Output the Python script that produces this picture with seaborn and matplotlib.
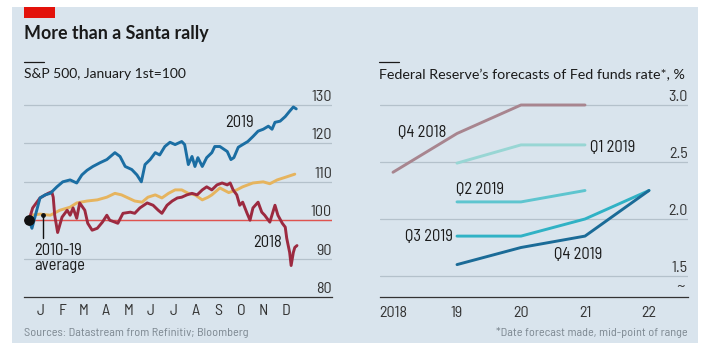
import matplotlib
matplotlib.use("Agg")
import matplotlib.pyplot as plt
import seaborn as sns
import pandas as pd
from matplotlib.patches import Rectangle
from matplotlib import font_manager as fm

# ---------------- data: left panel (day of year, index Jan 1st = 100) ----------------
days_2019 = [0, 4, 15, 22, 29, 38, 46, 56, 65, 72, 79, 87, 97, 106, 117, 124, 131, 140, 147,
             153, 158, 165, 172, 178, 185, 192, 199, 208, 212, 217, 222, 226, 230, 236, 242,
             249, 253, 260, 270, 275, 279, 285, 291, 298, 305, 312, 319, 326, 331, 335, 342,
             349, 355, 360, 364]
vals_2019 = [100, 97.9, 105.8, 106.6, 107.0, 108.7, 110.0, 110.5, 109.7, 111.8, 113.0, 114.0,
             115.0, 115.8, 117.6, 116.6, 114.0, 113.2, 111.8, 110.0, 114.5, 115.8, 117.6, 117.0,
             119.2, 120.3, 119.7, 120.5, 119.7, 114.5, 116.6, 114.0, 116.3, 114.0, 116.3, 117.6,
             119.2, 119.2, 117.9, 115.8, 116.3, 119.0, 119.7, 120.5, 121.8, 123.2, 123.7, 124.5,
             123.7, 125.5, 125.8, 127.0, 128.4, 129.5, 129.0]

days_avg = [0, 2, 15, 29, 42, 56, 65, 79, 93, 106, 117, 126, 135, 144, 154, 162, 172, 181, 190,
            199, 208, 217, 226, 236, 244, 249, 260, 272, 283, 291, 305, 319, 328, 338, 351, 362]
vals_avg = [100, 101.3, 101.6, 101.3, 102.6, 103.4, 104.5, 105.0, 105.3, 106.0, 107.0, 106.6,
            105.8, 105.0, 104.7, 106.0, 106.6, 105.8, 107.0, 107.9, 107.9, 107.0, 106.6, 105.3,
            106.0, 106.6, 108.4, 107.2, 107.9, 108.7, 109.7, 110.0, 109.5, 110.5, 111.3, 112.0]

days_2018 = [0, 5, 15, 26, 31, 33, 35, 39, 45, 52, 56, 60, 65, 69, 76, 80, 86, 93, 100, 106, 110,
             117, 121, 128, 138, 144, 151, 161, 169, 176, 181, 188, 195, 202, 208, 215, 222, 229,
             236, 242, 249, 256, 263, 270, 274, 278, 283, 287, 291, 297, 301, 305, 312, 317, 321,
             328, 335, 339, 345, 349, 351, 355, 357, 360, 362, 365]
vals_2018 = [100, 103.2, 105.8, 107.0, 107.4, 106.0, 101.3, 96.8, 100.8, 102.6, 101.3, 103.2,
             100.5, 104.5, 102.6, 99.2, 97.4, 97.9, 99.5, 101.3, 100.0, 99.5, 99.2, 101.8, 102.1,
             101.8, 103.2, 104.5, 103.9, 102.6, 101.8, 103.9, 105.0, 105.8, 106.0, 106.6, 107.0,
             106.6, 107.9, 108.7, 107.9, 109.2, 109.7, 109.2, 109.7, 107.9, 106.6, 103.9, 104.7,
             101.8, 100.0, 103.2, 104.7, 102.1, 101.3, 99.5, 103.9, 101.3, 99.2, 98.2, 95.3, 91.6,
             88.2, 91.6, 92.9, 93.4]

month_labels = ["J", "F", "M", "A", "M", "J", "J", "A", "S", "O", "N", "D"]
month_starts = [0, 31, 59, 90, 120, 151, 181, 212, 243, 273, 304, 334, 365]
left_yticks = [80, 90, 100, 110, 120, 130]

# ---------------- data: right panel (Fed funds rate forecasts, %) ----------------
years_q418 = [2018, 2019, 2020, 2021]
rate_q418 = [2.41, 2.75, 3.0, 3.0]
years_q119 = [2019, 2020, 2021]
rate_q119 = [2.49, 2.65, 2.65]
years_q219 = [2019, 2020, 2021]
rate_q219 = [2.15, 2.15, 2.25]
years_q319 = [2019, 2020, 2021, 2022]
rate_q319 = [1.85, 1.85, 2.0, 2.25]
years_q419 = [2019, 2020, 2021, 2022]
rate_q419 = [1.6, 1.75, 1.85, 2.25]
right_xticks = [2018, 2019, 2020, 2021, 2022]
right_xticklabels = ["2018", "19", "20", "21", "22"]
right_yticks = [1.5, 2.0, 2.5, 3.0]

# ---------------- styling ----------------
BG = "#d9e4ed"
GRID = "#b4c1cb"
TXT = "#1a1a1a"
GREY = "#7c8790"
c2019 = "#1b6ea3"
cavg = "#e6b45e"
c2018 = "#9c2a40"
cols_right = {"Q4 2018": "#a8858f", "Q1 2019": "#98d6d4", "Q2 2019": "#5ec5cf",
              "Q3 2019": "#30b2c5", "Q4 2019": "#1b6b97"}

sns.set_theme(style="white")
plt.rcParams["font.family"] = ["Roboto", "DejaVu Sans"]

# look for a condensed face for the small text
cond_fp = None
prefs = []
for f in fm.fontManager.ttflist:
    nm = f.name.lower()
    is_cond = ("condensed" in nm or "narrow" in nm or
               str(f.stretch) in ("condensed", "semi-condensed", "extra-condensed", "62.5", "75", "87.5"))
    if is_cond and str(f.style) == "normal" and f.weight in (400, "normal", "regular", "book"):
        score = 0 if "semi" in nm or str(f.stretch) in ("semi-condensed", "87.5") else 1
        prefs.append((score, f.fname))
if prefs:
    prefs.sort()
    cond_fp = fm.FontProperties(fname=prefs[0][1])
else:
    cond_fp = fm.FontProperties(family=["Roboto", "DejaVu Sans"])

W, H = 702, 343
fig = plt.figure(figsize=(W / 100, H / 100), dpi=100)
fig.patch.set_facecolor("white")
renderer = fig.canvas.get_renderer()

def fit_size(s, target_px, fp):
    t = fig.text(0, 0, s, fontproperties=fp, fontsize=10)
    w = t.get_window_extent(renderer).width
    t.remove()
    return 10 * target_px / w

ann_size = fit_size("Q4 2018", 48, cond_fp)
tick_size = 0.5 * (fit_size("130", 20, cond_fp) + fit_size("2018", 28, cond_fp))
src_size = fit_size("Sources: Datastream from Refinitiv; Bloomberg", 224, cond_fp)

def ctext(ax, x, y, s, size, **kw):
    fp = cond_fp.copy()
    fp.set_size(size)
    return ax.text(x, y, s, fontproperties=fp, **kw)

# panel background
fig.add_artist(Rectangle((12 / W, 0), (698 - 12) / W, (H - 7) / H, transform=fig.transFigure,
                         facecolor=BG, edgecolor="none", zorder=0))
# red tag
fig.add_artist(Rectangle((24 / W, (H - 18) / H), 31 / W, 11 / H, transform=fig.transFigure,
                         facecolor="#e3120b", edgecolor="none", zorder=1))

def fx(px):
    return px / W

def fy(py):
    return (H - py) / H

fig.text(fx(24), fy(33), "More than a Santa rally", fontsize=12.9, fontweight="bold",
         color=TXT, va="center", ha="left", family=["Lato", "DejaVu Sans"])
fig.text(fx(24), fy(74), "S&P 500, January 1st=100", fontsize=10, color=TXT, va="center",
         ha="left", family=["Lato", "DejaVu Sans"])
fig.text(fx(379), fy(75), "Federal Reserve\u2019s forecasts of Fed funds rate*, %", fontsize=10.3,
         color=TXT, va="center", ha="left", family=["Lato", "DejaVu Sans"])
fig.add_artist(plt.Line2D([fx(24), fx(44)], [fy(62), fy(62)], color=TXT, lw=0.9,
                          transform=fig.transFigure))
fig.add_artist(plt.Line2D([fx(379), fx(399)], [fy(62), fy(62)], color=TXT, lw=0.9,
                          transform=fig.transFigure))
ctext(fig, fx(24), fy(333), "Sources: Datastream from Refinitiv; Bloomberg", src_size,
      color=GREY, va="center", ha="left")
ctext(fig, fx(688), fy(333), "*Date forecast made, mid-point of range", src_size,
      color=GREY, va="center", ha="right")

# ---------------- left axes ----------------
axL = fig.add_axes([fx(24), fy(297), (332 - 24) / W, (297 - 100) / H])
axL.set_facecolor("none")
px_per_day = 268 / 365
axL.set_xlim(-5 / px_per_day, 303 / px_per_day)
axL.set_ylim(80, 130 + 5 / 3.8)

for v in left_yticks[1:]:
    axL.axhline(v, color=GRID, lw=0.9, zorder=1)
axL.axhline(100, color="#e0534f", lw=1.0, zorder=2)

dfL = pd.concat([
    pd.DataFrame({"day": days_avg, "value": vals_avg, "series": "avg"}),
    pd.DataFrame({"day": days_2018, "value": vals_2018, "series": "2018"}),
    pd.DataFrame({"day": days_2019, "value": vals_2019, "series": "2019"}),
])
sns.lineplot(data=dfL, x="day", y="value", hue="series",
             palette={"avg": cavg, "2018": c2018, "2019": c2019},
             hue_order=["avg", "2018", "2019"], estimator=None, sort=False,
             linewidth=2.1, legend=False, ax=axL, zorder=3)
axL.scatter([days_2019[0]], [vals_2019[0]], s=45, color="#111111", zorder=6)

for sp in ["top", "right", "left"]:
    axL.spines[sp].set_visible(False)
axL.spines["bottom"].set_color("#333333")
axL.spines["bottom"].set_linewidth(0.9)
axL.set_xticks(month_starts)
axL.set_xticklabels([])
axL.tick_params(axis="x", direction="out", length=6, width=0.9, color="#333333")
axL.set_yticks([])
axL.set_xlabel("")
axL.set_ylabel("")
for i, lab in enumerate(month_labels):
    ctext(axL, (month_starts[i] + month_starts[i + 1]) / 2, 80 - 14 / 3.8, lab, tick_size,
          ha="center", va="center", color="#333333")
for v in left_yticks:
    ctext(axL, 1.0, v + 8 / 3.8, str(v), tick_size, transform=axL.get_yaxis_transform(),
          ha="right", va="center", color="#333333")

ctext(axL, 287, 125.5, "2019", ann_size, ha="center", va="center", color=TXT)
ctext(axL, 325.5, 94.2, "2018", ann_size, ha="center", va="center", color=TXT)
ctext(axL, 6.8, 92.1, "2010-19", ann_size, ha="left", va="center", color=TXT)
ctext(axL, 6.8, 88.2, "average", ann_size, ha="left", va="center", color=TXT)
axL.plot([19, 19], [101.3, 95.3], color="#111111", lw=1.0, zorder=5)
axL.scatter([19], [101.3], s=6, color="#111111", zorder=6)

# ---------------- right axes ----------------
axR = fig.add_axes([fx(380), fy(297), (688 - 380) / W, (297 - 100) / H])
axR.set_facecolor("none")
axR.set_xlim(2018 - 13 / 64, 2018 + 295 / 64)
axR.set_ylim(1.5 - 21 / 114, 3.0 + 5 / 114)
for v in right_yticks:
    axR.axhline(v, color=GRID, lw=0.9, zorder=1)

dfR = pd.concat([
    pd.DataFrame({"year": years_q418, "rate": rate_q418, "forecast": "Q4 2018"}),
    pd.DataFrame({"year": years_q119, "rate": rate_q119, "forecast": "Q1 2019"}),
    pd.DataFrame({"year": years_q219, "rate": rate_q219, "forecast": "Q2 2019"}),
    pd.DataFrame({"year": years_q319, "rate": rate_q319, "forecast": "Q3 2019"}),
    pd.DataFrame({"year": years_q419, "rate": rate_q419, "forecast": "Q4 2019"}),
])
sns.lineplot(data=dfR, x="year", y="rate", hue="forecast", palette=cols_right,
             hue_order=list(cols_right.keys()), estimator=None, sort=False,
             linewidth=2.1, legend=False, ax=axR, zorder=3)

for sp in ["top", "right", "left"]:
    axR.spines[sp].set_visible(False)
axR.spines["bottom"].set_color("#333333")
axR.spines["bottom"].set_linewidth(0.9)
axR.set_xticks(right_xticks)
axR.set_xticklabels([])
axR.tick_params(axis="x", direction="out", length=6, width=0.9, color="#333333")
axR.set_yticks([])
axR.set_xlabel("")
axR.set_ylabel("")
for xv, lab in zip(right_xticks, right_xticklabels):
    ctext(axR, xv, 1.5 - 37 / 114, lab, tick_size, ha="center", va="center", color="#333333")
for v in right_yticks:
    ctext(axR, 1.0, v + 8 / 114, f"{v:.1f}", tick_size, transform=axR.get_yaxis_transform(),
          ha="right", va="center", color="#333333")
axR.text(0.975, 1.5 - 11 / 114, "~", transform=axR.get_yaxis_transform(), ha="center",
         va="center", fontsize=9, color="#333333")

ctext(axR, 2018.45, 2.76, "Q4 2018", ann_size, ha="center", va="center", color=TXT)
ctext(axR, 2021.08, 2.63, "Q1 2019", ann_size, ha="left", va="center", color=TXT)
ctext(axR, 2019.36, 2.26, "Q2 2019", ann_size, ha="center", va="center", color=TXT)
ctext(axR, 2018.94, 1.85, "Q3 2019", ann_size, ha="right", va="center", color=TXT)
ctext(axR, 2020.89, 1.69, "Q4 2019", ann_size, ha="center", va="center", color=TXT)

fig.savefig("out.png", dpi=100, facecolor="white")
